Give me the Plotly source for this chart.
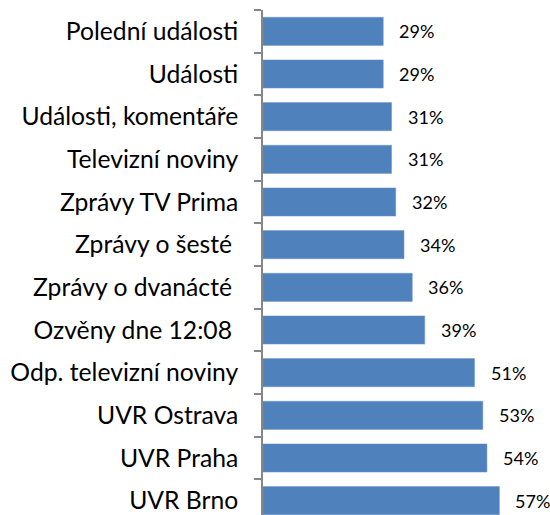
import plotly.graph_objects as go

categories = ["Polední události", "Události", "Události, komentáře", "Televizní noviny",
              "Zprávy TV Prima", "Zprávy o šesté\u00a0", "Zprávy o dvanácté\u00a0",
              "Ozvěny dne 12:08\u00a0", "Odp. televizní noviny", "UVR Ostrava",
              "UVR Praha", "UVR Brno"]
values = [29, 29, 31, 31, 32, 34, 36, 39, 51, 53, 54, 57]
value_labels = [f"{v}%" for v in values]

cats_b = categories[::-1]
vals_b = values[::-1]
labs_b = value_labels[::-1]

fig = go.Figure(go.Bar(
    y=cats_b, x=vals_b, orientation="h",
    marker=dict(color="#4F81BD", line=dict(color="#6E96C8", width=0.5)),
    width=0.66,
))

for c, v, t in zip(cats_b, vals_b, labs_b):
    fig.add_annotation(x=v, y=c, text=t, showarrow=False, xanchor="left",
                       xshift=14, font=dict(family="Lato", size=18, color="#000000"))

fig.update_layout(
    width=550, height=515,
    margin=dict(l=263, r=0, t=10, b=0),
    paper_bgcolor="white", plot_bgcolor="white",
    showlegend=False,
    xaxis=dict(range=[0, 69.2], visible=False, fixedrange=True),
    yaxis=dict(
        range=[-0.336, 11.5], fixedrange=True,
        showline=True, linecolor="#868686", linewidth=1.5,
        ticks="outside", ticklen=7, tickcolor="#868686", tickwidth=1.5,
        tickson="boundaries", ticklabelstandoff=18,
        tickfont=dict(family="Lato", size=24.7, color="#000000"),
        showgrid=False, zeroline=False, automargin=False,
    ),
)

fig.write_html("out.html", config={"displayModeBar": False},
               post_script="document.body.style.margin='0';document.body.style.overflow='hidden';")
